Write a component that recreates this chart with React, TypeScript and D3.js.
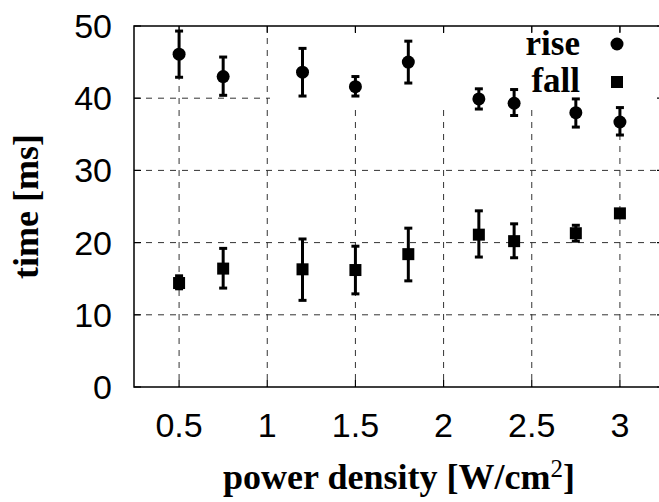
import React, { useEffect, useRef } from 'react';
import * as d3 from 'd3';

// power density [W/cm2]
const powerDensity = [0.5, 0.75, 1.2, 1.5, 1.8, 2.2, 2.4, 2.75, 3.0];

// rise time [ms] with error range
const rise = [46.1, 43.0, 43.6, 41.6, 45.0, 39.9, 39.3, 38.0, 36.7];
const riseLow = [42.9, 40.4, 40.3, 40.3, 42.1, 38.5, 37.6, 36.0, 34.9];
const riseHigh = [49.3, 45.7, 46.9, 43.0, 47.9, 41.3, 41.2, 39.9, 38.7];

// fall time [ms] with error range
const fall = [14.4, 16.4, 16.3, 16.2, 18.4, 21.1, 20.2, 21.3, 24.05];
const fallLow = [13.6, 13.7, 12.0, 12.9, 14.7, 18.0, 17.9, 20.2, 23.9];
const fallHigh = [15.4, 19.2, 20.5, 19.5, 22.0, 24.4, 22.6, 22.4, 24.2];

const xTicks = [0.5, 1, 1.5, 2, 2.5, 3];
const yTicks = [0, 10, 20, 30, 40, 50];

const App = () => {
  const svgRef = useRef<SVGSVGElement>(null);

  useEffect(() => {
    const svg = d3.select(svgRef.current);
    svg.selectAll('*').remove();

    const width = 659;
    const height = 502;
    const left = 134;
    const top = 26;
    const bottom = 387;
    const right = 664;

    const x = d3.scaleLinear().domain([0.25, 3.25]).range([left + 1, right]);
    const y = d3.scaleLinear().domain([0, 50]).range([bottom, top]);

    svg.attr('width', width).attr('height', height);

    const sans = '"Liberation Sans", Arial, Helvetica, sans-serif';
    const serif = '"Liberation Serif", "Times New Roman", serif';

    // grid
    const grid = svg.append('g')
      .attr('stroke', '#333')
      .attr('stroke-width', 1)
      .attr('stroke-dasharray', '6 6');
    grid.selectAll('.vgrid').data(xTicks).join('line')
      .attr('x1', (d) => x(d)).attr('x2', (d) => x(d))
      .attr('y1', top).attr('y2', bottom);
    grid.selectAll('.hgrid').data(yTicks.slice(1, -1)).join('line')
      .attr('x1', left).attr('x2', right)
      .attr('y1', (d) => y(d)).attr('y2', (d) => y(d));

    // key box blanks the grid behind it
    svg.append('rect')
      .attr('x', 270).attr('y', top + 6)
      .attr('width', right - 270).attr('height', 78)
      .attr('fill', '#fff');

    // border
    svg.append('path')
      .attr('d', `M${right},${top}H${left}V${bottom}H${right}`)
      .attr('fill', 'none')
      .attr('stroke', '#000')
      .attr('stroke-width', 1.5);

    // ticks on all sides
    const ticks = svg.append('g').attr('stroke', '#000').attr('stroke-width', 1.2);
    xTicks.forEach((t) => {
      ticks.append('line').attr('x1', x(t)).attr('x2', x(t)).attr('y1', bottom).attr('y2', bottom - 7);
      ticks.append('line').attr('x1', x(t)).attr('x2', x(t)).attr('y1', top).attr('y2', top + 7);
    });
    yTicks.forEach((t) => {
      ticks.append('line').attr('x1', left).attr('x2', left + 7).attr('y1', y(t)).attr('y2', y(t));
      ticks.append('line').attr('x1', right).attr('x2', right - 7).attr('y1', y(t)).attr('y2', y(t));
    });

    // tick labels
    svg.selectAll('.xlabel').data(xTicks).join('text')
      .attr('x', (d) => x(d))
      .attr('y', 437)
      .attr('text-anchor', 'middle')
      .style('font-family', sans)
      .style('font-size', '34px')
      .text((d) => d3.format('')(d));

    svg.selectAll('.ylabel').data(yTicks).join('text')
      .attr('x', 112)
      .attr('y', (d) => y(d) + 12)
      .attr('text-anchor', 'end')
      .style('font-family', sans)
      .style('font-size', '34px')
      .text((d) => d);

    // axis titles
    svg.append('text')
      .attr('transform', `translate(38,${(top + bottom) / 2}) rotate(-90)`)
      .attr('text-anchor', 'middle')
      .style('font-family', serif)
      .style('font-weight', 'bold')
      .style('font-size', '36px')
      .text('time [ms]');

    const xTitle = svg.append('text')
      .attr('x', (left + right) / 2)
      .attr('y', 489)
      .attr('text-anchor', 'middle')
      .style('font-family', serif)
      .style('font-weight', 'bold')
      .style('font-size', '36px');
    xTitle.append('tspan').text('power density [W/cm');
    xTitle.append('tspan').attr('dy', -12).style('font-size', '25px').style('font-weight', 'normal').text('2');
    xTitle.append('tspan').attr('dy', 12).text(']');

    // error bars
    const drawErrors = (lo: number[], hi: number[]) => {
      const g = svg.append('g').attr('stroke', '#000').attr('stroke-width', 3);
      powerDensity.forEach((p, i) => {
        const cx = x(p);
        g.append('line').attr('x1', cx).attr('x2', cx).attr('y1', y(lo[i])).attr('y2', y(hi[i]));
        g.append('line').attr('x1', cx - 4).attr('x2', cx + 4).attr('y1', y(lo[i])).attr('y2', y(lo[i]));
        g.append('line').attr('x1', cx - 4).attr('x2', cx + 4).attr('y1', y(hi[i])).attr('y2', y(hi[i]));
      });
    };
    drawErrors(riseLow, riseHigh);
    drawErrors(fallLow, fallHigh);

    // rise points
    svg.selectAll('.rise').data(rise).join('circle')
      .attr('cx', (_, i) => x(powerDensity[i]))
      .attr('cy', (d) => y(d))
      .attr('r', 6.5)
      .attr('fill', '#000');

    // fall points
    svg.selectAll('.fall').data(fall).join('rect')
      .attr('x', (_, i) => x(powerDensity[i]) - 6)
      .attr('y', (d) => y(d) - 6)
      .attr('width', 12)
      .attr('height', 12)
      .attr('fill', '#000');

    // key
    const key = svg.append('g')
      .style('font-family', serif)
      .style('font-weight', 'bold')
      .style('font-size', '35px');
    key.append('text').attr('x', 580).attr('y', 55).attr('text-anchor', 'end').text('rise');
    key.append('text').attr('x', 580).attr('y', 92).attr('text-anchor', 'end').text('fall');
    key.append('circle').attr('cx', 617).attr('cy', 44).attr('r', 6.5).attr('fill', '#000');
    key.append('rect').attr('x', 611).attr('y', 76).attr('width', 12).attr('height', 12).attr('fill', '#000');
  }, []);

  return (
    <>
      <style>{'body{margin:0}'}</style>
      <svg ref={svgRef} style={{ display: 'block' }} />
    </>
  );
};

export default App;
